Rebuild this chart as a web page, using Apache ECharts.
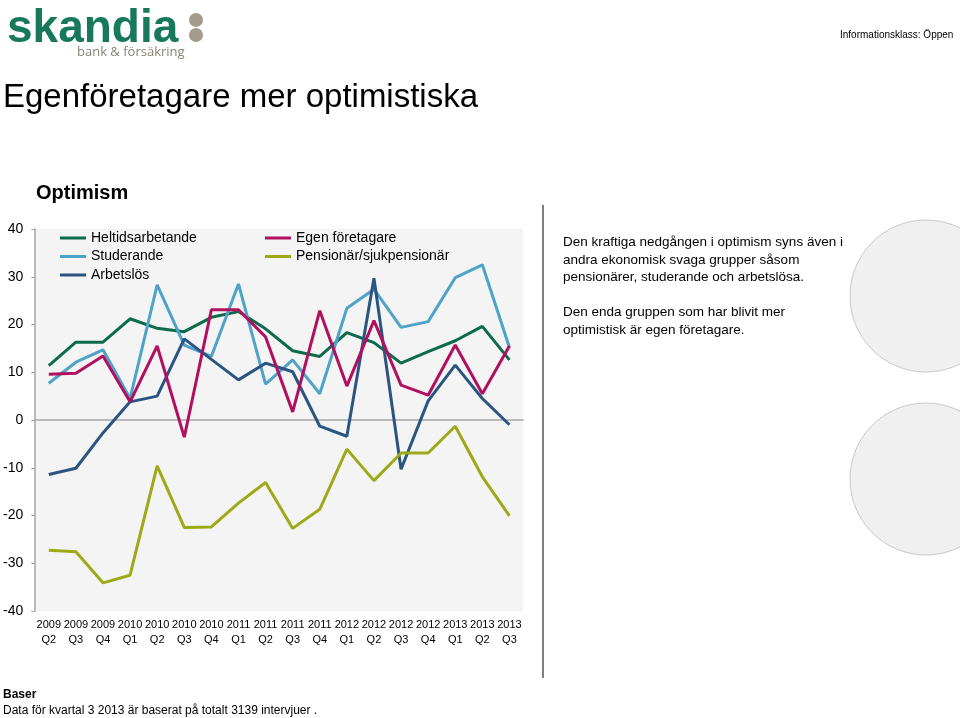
<!DOCTYPE html>
<html><head><meta charset="utf-8">
<script src="https://cdn.jsdelivr.net/npm/echarts@6/dist/echarts.min.js"></script>
<style>html,body{margin:0;padding:0;background:#fff}#c{width:960px;height:718px}</style>
</head><body><div id="c"></div>
<script>
const categories = ['2009\nQ2','2009\nQ3','2009\nQ4','2010\nQ1','2010\nQ2','2010\nQ3','2010\nQ4','2011\nQ1','2011\nQ2','2011\nQ3','2011\nQ4','2012\nQ1','2012\nQ2','2012\nQ3','2012\nQ4','2013\nQ1','2013\nQ2','2013\nQ3'];
const heltid = [11.4,16.3,16.3,21.2,19.2,18.5,21.5,22.7,19.1,14.5,13.3,18.3,16.2,11.9,14.3,16.6,19.6,12.6];
const egen = [9.6,9.8,13.4,3.8,15.5,-3.6,23.1,23.1,17.4,1.7,22.9,7.1,20.8,7.3,5.2,15.7,5.5,15.5];
const studerande = [7.7,12.1,14.7,4.5,28.3,15.7,13.3,28.5,7.5,12.6,5.5,23.4,27.4,19.4,20.6,29.8,32.5,15.2];
const pension = [-27.3,-27.6,-34.1,-32.5,-9.6,-22.5,-22.4,-17.4,-13.1,-22.7,-18.7,-6.1,-12.7,-6.9,-6.9,-1.3,-11.9,-20.1];
const arbetslos = [-11.4,-10.1,-2.7,3.8,5.0,17.0,12.7,8.4,11.9,10.1,-1.3,-3.4,29.7,-10.3,4.0,11.5,4.5,-1.0];
const yTicks = {min:-40, max:40, step:10};

const chart = echarts.init(document.getElementById('c'), null, {renderer:'canvas'});
const F = 'Arial, "Liberation Sans", Helvetica, sans-serif';
function s(name, data, color){
  return {name, type:'line', data, symbol:'none', lineStyle:{width:3, color}, itemStyle:{color}, z:3};
}
chart.setOption({
  animation:false,
  textStyle:{fontFamily:F},
  grid:{left:34, right:437, top:229, bottom:107, show:true, backgroundColor:'#f4f4f4', borderWidth:0},
  legend:[
    {left:55, top:224, orient:'vertical', icon:'rect', itemWidth:26, itemHeight:3, itemGap:0.5,
     textStyle:{fontSize:14, color:'#000', fontFamily:F, lineHeight:18},
     data:['Heltidsarbetande','Studerande','Arbetslös']},
    {left:260, top:224, orient:'vertical', icon:'rect', itemWidth:26, itemHeight:3, itemGap:0.5,
     textStyle:{fontSize:14, color:'#000', fontFamily:F, lineHeight:18},
     data:['Egen företagare','Pensionär/sjukpensionär']}
  ],
  xAxis:{type:'category', data:categories, boundaryGap:true,
    axisLine:{lineStyle:{color:'#a6a6a6', width:1.5}},
    axisTick:{lineStyle:{color:'#a6a6a6'}, length:4},
    axisLabel:{fontSize:11, color:'#000', lineHeight:15, margin:6, interval:0, fontFamily:F}},
  yAxis:{type:'value', min:yTicks.min, max:yTicks.max, interval:yTicks.step,
    splitLine:{show:false},
    axisLine:{show:true, lineStyle:{color:'#a6a6a6', width:1.5}},
    axisTick:{show:true, length:4, lineStyle:{color:'#a6a6a6'}},
    axisLabel:{fontSize:14, color:'#000', margin:12, fontFamily:F}},
  series:[
    s('Heltidsarbetande', heltid, '#0b6b4b'),
    s('Studerande', studerande, '#4fa3c7'),
    s('Arbetslös', arbetslos, '#2b5580'),
    s('Egen företagare', egen, '#b0105e'),
    s('Pensionär/sjukpensionär', pension, '#9daa18')
  ],
  graphic:[
    {type:'text', left:7, top:6, style:{text:'skandia', font:'bold 46px Arial, "Liberation Sans", sans-serif', fill:'#17785a'}},
    {type:'circle', shape:{cx:196, cy:20, r:7}, style:{fill:'#a39c8c'}},
    {type:'circle', shape:{cx:196, cy:35, r:7}, style:{fill:'#a39c8c'}},
    {type:'text', left:77, top:46, style:{text:'bank & försäkring', font:'13px "Open Sans", Arial, sans-serif', fill:'#8a8275'}},
    {type:'text', left:840, top:30, style:{text:'Informationsklass: Öppen', font:'10px Arial, "Liberation Sans", sans-serif', fill:'#000'}},
    {type:'text', left:3, top:81, style:{text:'Egenföretagare mer optimistiska', font:'33px Arial, "Liberation Sans", sans-serif', fill:'#000'}},
    {type:'text', left:36, top:183, style:{text:'Optimism', font:'bold 20px Arial, "Liberation Sans", sans-serif', fill:'#000'}},
    {type:'line', shape:{x1:543, y1:205, x2:543, y2:678}, style:{stroke:'#555', lineWidth:1.5}},
    {type:'text', left:563, top:234, style:{text:'Den kraftiga nedgången i optimism syns även i\nandra ekonomisk svaga grupper såsom\npensionärer, studerande och arbetslösa.\n\nDen enda gruppen som har blivit mer\noptimistisk är egen företagare.', font:'13.5px Arial, "Liberation Sans", sans-serif', lineHeight:17.5, fill:'#000'}},
    {type:'circle', z:-1, shape:{cx:926, cy:296, r:76}, style:{fill:'#f0f0f0', stroke:'#c8c8c8', lineWidth:1}},
    {type:'circle', z:-1, shape:{cx:926, cy:479, r:76}, style:{fill:'#f0f0f0', stroke:'#c8c8c8', lineWidth:1}},
    {type:'text', left:3, top:689, style:{text:'Baser', font:'bold 12px Arial, "Liberation Sans", sans-serif', fill:'#000'}},
    {type:'text', left:3, top:705, style:{text:'Data för kvartal 3 2013 är baserat på totalt 3139 intervjuer .', font:'12px Arial, "Liberation Sans", sans-serif', fill:'#000'}}
  ]
});
</script></body></html>
